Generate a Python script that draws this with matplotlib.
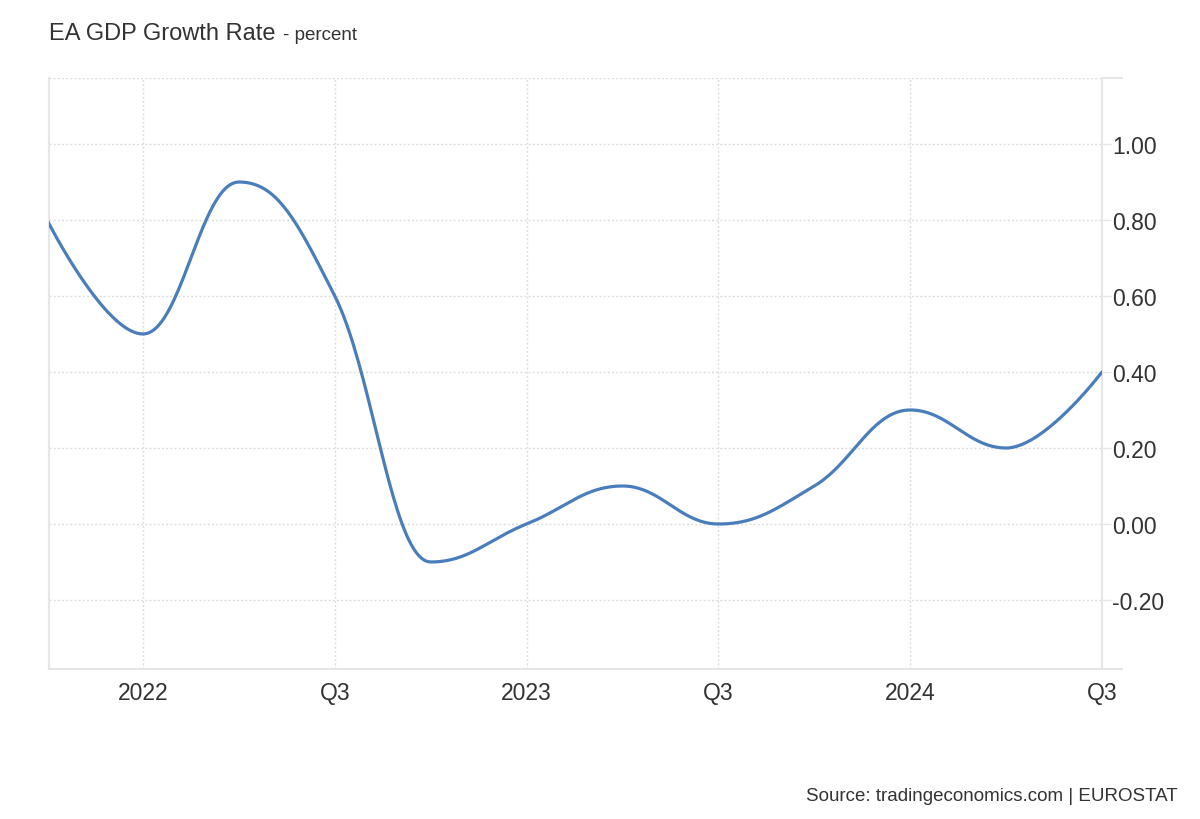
import numpy as np
import matplotlib
matplotlib.use("Agg")
from matplotlib import pyplot as plt

plt.rcParams['font.family'] = ['Liberation Sans', 'DejaVu Sans']

# quarterly values, Q4 2021 .. Q3 2024
quarters = ['Q4 2021', 'Q1 2022', 'Q2 2022', 'Q3 2022', 'Q4 2022', 'Q1 2023',
            'Q2 2023', 'Q3 2023', 'Q4 2023', 'Q1 2024', 'Q2 2024', 'Q3 2024']
growth = [0.8, 0.5, 0.9, 0.6, -0.1, 0.0, 0.1, 0.0, 0.1, 0.3, 0.2, 0.4]
xtick_pos = [1, 3, 5, 7, 9, 11]
xtick_labels = ['2022', 'Q3', '2023', 'Q3', '2024', 'Q3']
ytick_vals = [-0.2, 0.0, 0.2, 0.4, 0.6, 0.8, 1.0]

TXT = '#333333'
GRID = '#dcdcdc'
AXL = '#e6e6e6'
BLUE = '#4a7ebb'
DOTS = (0, (1.4, 1.6))


def spline(xs, ys, smoothing=1.5, n=40):
    # bezier spline like the web chart library draws it
    xs, ys = list(map(float, xs)), list(map(float, ys))
    m = len(xs)
    lc, rc = [None] * m, [None] * m
    for i in range(m):
        if i == 0 or i == m - 1:
            lc[i] = rc[i] = (xs[i], ys[i])
            continue
        d = smoothing + 1
        lx = (smoothing * xs[i] + xs[i - 1]) / d
        ly = (smoothing * ys[i] + ys[i - 1]) / d
        rx = (smoothing * xs[i] + xs[i + 1]) / d
        ry = (smoothing * ys[i] + ys[i + 1]) / d
        corr = 0
        if rx != lx:
            corr = (ry - ly) * (rx - xs[i]) / (rx - lx) + ys[i] - ry
        ly += corr
        ry += corr
        py, lasty, nexty = ys[i], ys[i - 1], ys[i + 1]
        if ly > lasty and ly > py:
            ly = max(lasty, py); ry = 2 * py - ly
        elif ly < lasty and ly < py:
            ly = min(lasty, py); ry = 2 * py - ly
        if ry > nexty and ry > py:
            ry = max(nexty, py); ly = 2 * py - ry
        elif ry < nexty and ry < py:
            ry = min(nexty, py); ly = 2 * py - ry
        lc[i], rc[i] = (lx, ly), (rx, ry)
    px, py_ = [xs[0]], [ys[0]]
    t = np.linspace(0, 1, n)[1:]
    for i in range(1, m):
        p0 = np.array([xs[i - 1], ys[i - 1]])
        p1, p2 = np.array(rc[i - 1]), np.array(lc[i])
        p3 = np.array([xs[i], ys[i]])
        pts = ((1 - t) ** 3)[:, None] * p0 + (3 * (1 - t) ** 2 * t)[:, None] * p1 \
            + (3 * (1 - t) * t ** 2)[:, None] * p2 + (t ** 3)[:, None] * p3
        px.extend(pts[:, 0]); py_.extend(pts[:, 1])
    return px, py_


fig = plt.figure(figsize=(12, 8.2), dpi=100)
ax = fig.add_axes([49 / 1200, 1 - 670 / 820, (1102 - 49) / 1200, (670 - 79) / 820])

xi = np.arange(len(growth))
sx, sy = spline(xi, growth)
ax.plot(sx, sy, color=BLUE, lw=2.3, solid_capstyle='round', zorder=3)

ax.set_xlim(0.02, 11)
ax.set_ylim(-0.3816, 1.1737)

for v in ytick_vals:
    ax.axhline(v, color=GRID, lw=1, ls=DOTS, zorder=1)
ax.axhline(1.1737, color=GRID, lw=1, ls=DOTS, zorder=1)
for p in xtick_pos[:-1]:
    ax.axvline(p, color=GRID, lw=1, ls=DOTS, zorder=1)

ax.spines['top'].set_visible(False)
for s in ['left', 'right', 'bottom']:
    ax.spines[s].set_color(AXL)
    ax.spines[s].set_linewidth(1.5)

# axis line and top tick extend past the right edge
ax.plot([1, 1.019], [0, 0], transform=ax.transAxes, color=AXL, lw=1.5, clip_on=False)
ax.plot([1, 1.019], [1, 1], transform=ax.transAxes, color=AXL, lw=1.5, clip_on=False)

ax.yaxis.tick_right()
ax.set_yticks(ytick_vals)
ax.set_yticklabels([f'{v:.2f}' for v in ytick_vals])
ax.tick_params(axis='y', length=6.5, width=1, color=AXL, pad=1, labelsize=16.5, labelcolor=TXT)
ax.set_xticks(xtick_pos)
ax.set_xticklabels(xtick_labels)
ax.tick_params(axis='x', length=0, pad=9, labelsize=16.5, labelcolor=TXT)

fig.text(49 / 1200, 1 - 40 / 820, 'EA GDP Growth Rate', fontsize=17, color=TXT, va='baseline')
fig.text(283 / 1200, 1 - 40 / 820, '- percent', fontsize=13.5, color=TXT, va='baseline')
fig.text(1178 / 1200, 1 - 801 / 820, 'Source: tradingeconomics.com | EUROSTAT',
         fontsize=13.5, color=TXT, ha='right', va='baseline')

fig.savefig('out.png', dpi=100, facecolor='white')
